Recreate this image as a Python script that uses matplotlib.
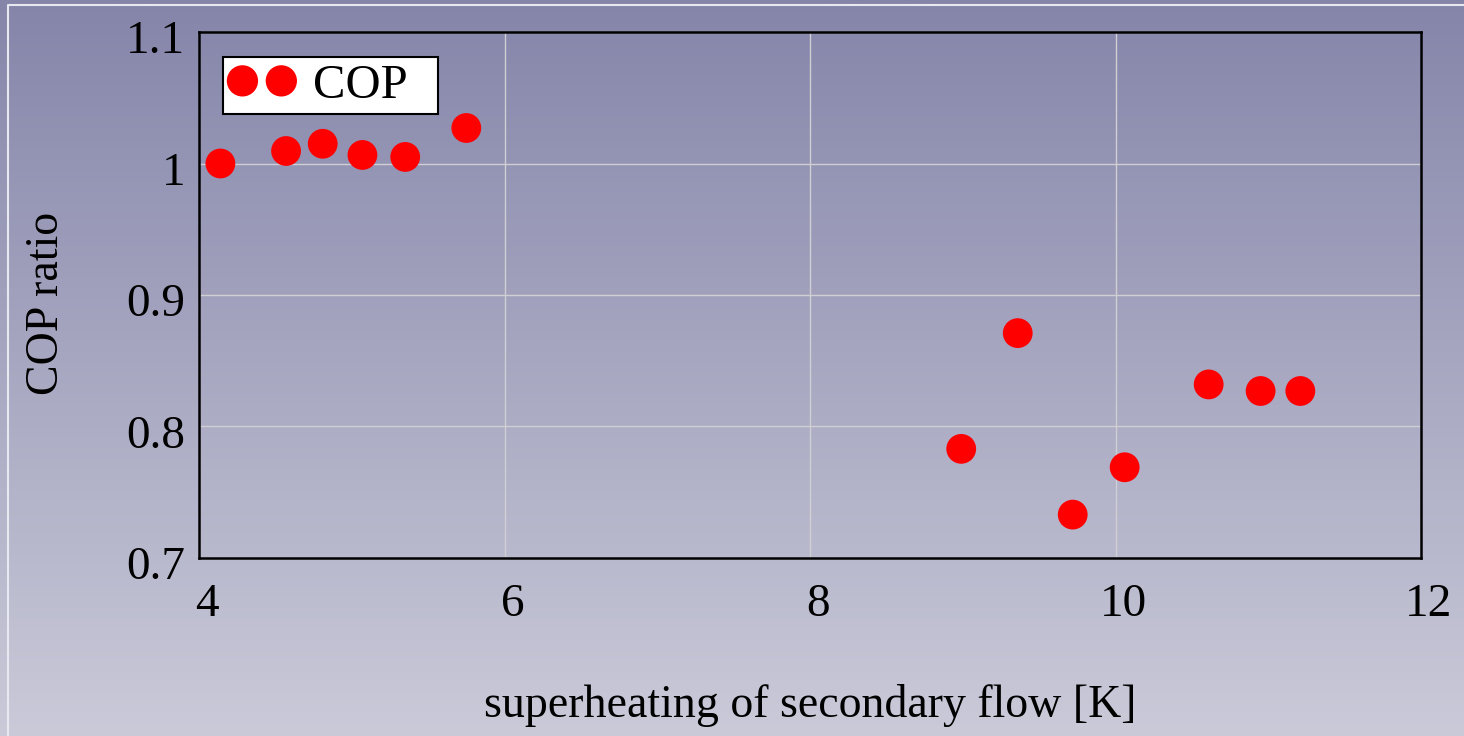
import numpy as np
import matplotlib; matplotlib.use("Agg"); import matplotlib.pyplot as plt
import matplotlib.transforms as mtransforms
from matplotlib.patches import Rectangle

# superheating of secondary flow [K] vs COP ratio
sh=[4.14,4.57,4.81,5.07,5.35,5.75,8.99,9.36,9.72,10.06,10.61,10.95,11.21]
cop=[1.000,1.0095,1.015,1.0065,1.005,1.027,0.783,0.871,0.733,0.769,0.832,0.827,0.827]
xticks=[4,6,8,10,12]; yticks=[0.7,0.8,0.9,1,1.1]
ylabels=["0.7","0.8","0.9","1","1.1"]

plt.rcParams['font.family']=['Liberation Serif','DejaVu Serif']
W,H=1464,736
fig=plt.figure(figsize=(W/100,H/100),dpi=100)

# gradient background + thin light border on top/left
bg=fig.add_axes([0,0,1,1],zorder=-10); bg.set_axis_off()
top=np.array([133,133,170])/255; bot=np.array([202,202,217])/255
t=np.linspace(0,1,256)[:,None]
grad=(top[None,:]*(1-t)+bot[None,:]*t)[:,None,:]
bg.imshow(grad,aspect="auto",extent=[0,1,0,1],origin="upper")
bg.plot([8/W,8/W,1],[0,1-5/H,1-5/H],color="#e8e8f0",lw=1.5)
bg.set_xlim(0,1); bg.set_ylim(0,1)

ax=fig.add_axes([199/W,1-558/H,(1421-199)/W,(558-32)/H])
ax.patch.set_alpha(0)
ax.scatter(sh,cop,s=460,c="#ff0000",edgecolors="none",zorder=3,label="COP")
ax.set_xlim(4,12); ax.set_ylim(0.7,1.1)
ax.set_xticks(xticks); ax.set_yticks(yticks); ax.set_yticklabels(ylabels)
ax.grid(True,color="#cfcfd4",lw=1)
for s in ax.spines.values(): s.set_linewidth(1.8); s.set_color("black")
ax.tick_params(length=0,labelsize=34,pad=10)
ax.tick_params(axis="x",pad=18)
for lb in ax.get_xticklabels():
    lb.set_transform(lb.get_transform()+mtransforms.ScaledTranslation(8/100,0,fig.dpi_scale_trans))
for lb in ax.get_yticklabels():
    lb.set_transform(lb.get_transform()+mtransforms.ScaledTranslation(0,-5/100,fig.dpi_scale_trans))
ax.set_xlabel("superheating of secondary flow [K]",fontsize=33,labelpad=42)
ax.set_ylabel("COP ratio",fontsize=33)
ax.yaxis.set_label_coords((68-199)/1222,1-(303-32)/526)

# legend: no own frame, white box drawn separately to match its proportions
leg=ax.legend(loc="upper left",scatterpoints=2,scatteryoffsets=[0.5],markerscale=1.05,fontsize=35,frameon=False,
              borderpad=0.1,handletextpad=0.35,handlelength=1.4,borderaxespad=0.0,
              bbox_to_anchor=((223-199)/1222,1-(59-32)/526))
leg.set_zorder(6)
ax.add_patch(Rectangle(((223-199)/1222,1-(114-32)/526),(438-223)/1222,(114-57)/526,transform=ax.transAxes,
                       fc="white",ec="black",lw=1.5,zorder=5,clip_on=False))
fig.savefig("out.png",dpi=100)
